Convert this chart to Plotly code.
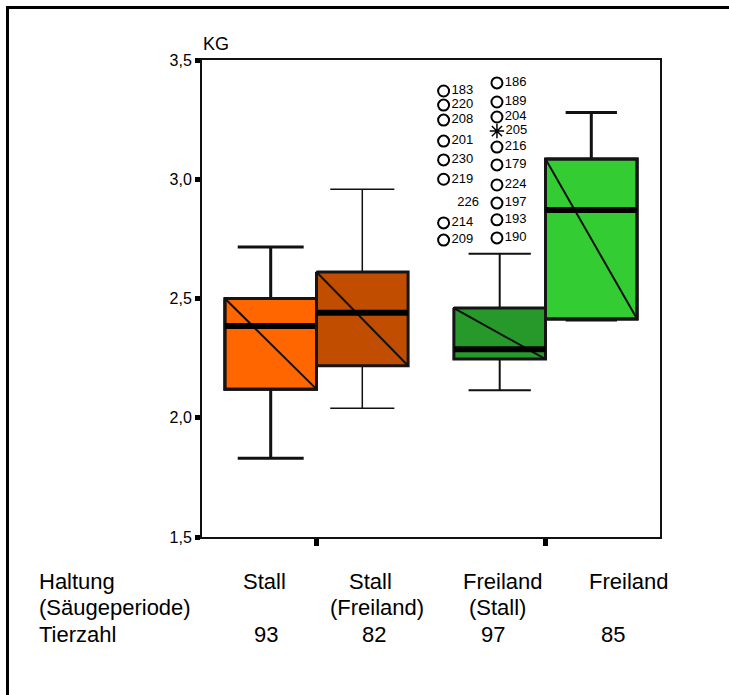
import plotly.graph_objects as go

# ---------------- data ----------------
haltung = ["Stall", "Stall", "Freiland", "Freiland"]
saeugeperiode = ["", "(Freiland)", "(Stall)", ""]
tierzahl = [93, 82, 97, 85]

lower_fence = [1.83, 2.04, 2.115, 2.41]
q1 = [2.12, 2.218, 2.246, 2.414]
median = [2.385, 2.44, 2.287, 2.871]
q3 = [2.50, 2.611, 2.46, 3.085]
upper_fence = [2.716, 2.958, 2.688, 3.28]

# outliers of box 3 (Freiland, Säugeperiode Stall), two label columns
out_left_vals = [3.37, 3.311, 3.248, 3.16, 3.081, 3.0, 2.817, 2.745]
out_left_labels = ["183", "220", "208", "201", "230", "219", "214", "209"]
out_right_vals = [3.404, 3.324, 3.261, 3.135, 3.06, 2.976, 2.90, 2.83, 2.754]
out_right_labels = ["186", "189", "204", "216", "179", "224", "197", "193", "190"]
extreme_vals = [3.202]
extreme_labels = ["205"]
unmarked_vals = [2.90]
unmarked_labels = ["226"]

y_ticks = [1.5, 2.0, 2.5, 3.0, 3.5]

# ---------------- styles ----------------
colors = ["#FF6600", "#C04D00", "#27982A", "#33CC33"]
whisker_lw = [3, 1.5, 2, 3]
whisker_w = [0.72, 0.7, 0.68, 0.56]
BOX_W = 0.4
FONT = "Liberation Sans, Arial, sans-serif"

# layout geometry (pixels)
W, H = 729, 695
L, R, T, B = 202, 660, 60, 537


def px_x(px):
    return (px - L) / (R - L)


def px_y(py):
    return (B - py) / (B - T)


fig = go.Figure()

centers = []
for i in range(4):
    g = i // 2
    side = i % 2
    c = g + (side - 0.5) * BOX_W
    centers.append(c)

for i in range(4):
    c = centers[i]
    fig.add_trace(go.Box(
        x=[c], q1=[q1[i]], median=[median[i]], q3=[q3[i]],
        lowerfence=[lower_fence[i]], upperfence=[upper_fence[i]],
        width=BOX_W, whiskerwidth=whisker_w[i],
        fillcolor=colors[i], line=dict(color="#111111", width=whisker_lw[i]),
        boxpoints=False, hoverinfo="skip", showlegend=False,
    ))
    xl, xr = c - BOX_W / 2, c + BOX_W / 2
    # box border
    fig.add_trace(go.Scatter(
        x=[xl, xr, xr, xl, xl], y=[q3[i], q3[i], q1[i], q1[i], q3[i]],
        mode="lines", line=dict(color="#151515", width=3),
        hoverinfo="skip", showlegend=False))
    # diagonal
    fig.add_trace(go.Scatter(
        x=[xl, xr], y=[q3[i], q1[i]], mode="lines",
        line=dict(color="#111111", width=2), hoverinfo="skip", showlegend=False))
    # thick median
    fig.add_trace(go.Scatter(
        x=[xl, xr], y=[median[i], median[i]], mode="lines",
        line=dict(color="#000000", width=6), hoverinfo="skip", showlegend=False))

# outliers
c3 = centers[2]
LEFT_OFF, RIGHT_OFF = -0.245, -0.012
lbl_font = dict(family=FONT, size=13, color="#000000")
circ = dict(symbol="circle-open", size=11, color="#000", line=dict(color="#000", width=2))
fig.add_trace(go.Scatter(
    x=[c3 + LEFT_OFF] * len(out_left_vals), y=out_left_vals,
    mode="markers+text", text=out_left_labels, textposition="middle right",
    textfont=lbl_font, marker=circ, hoverinfo="skip", showlegend=False))
fig.add_trace(go.Scatter(
    x=[c3 + RIGHT_OFF] * len(out_right_vals), y=out_right_vals,
    mode="markers+text", text=out_right_labels, textposition="middle right",
    textfont=lbl_font, marker=circ, hoverinfo="skip", showlegend=False))
fig.add_trace(go.Scatter(
    x=[c3 + RIGHT_OFF] * len(extreme_vals), y=extreme_vals,
    mode="markers+text", text=extreme_labels, textposition="middle right",
    textfont=lbl_font,
    marker=dict(symbol="asterisk-open", size=12, color="#000",
                line=dict(color="#000", width=1.5)),
    hoverinfo="skip", showlegend=False))
fig.add_trace(go.Scatter(
    x=[c3 + LEFT_OFF + 0.06] * len(unmarked_vals), y=unmarked_vals,
    mode="text", text=unmarked_labels, textposition="middle right",
    textfont=lbl_font, hoverinfo="skip", showlegend=False))

annotations = []
# KG
annotations.append(dict(x=px_x(201), y=px_y(44), xref="paper", yref="paper",
                        text="KG", showarrow=False, xanchor="left", yanchor="middle",
                        font=dict(family=FONT, size=18, color="#000")))

tbl_font = dict(family=FONT, size=22, color="#000")
row_y = [581, 607.5, 634]
row_titles = ["Haltung", "(Säugeperiode)", "Tierzahl"]
for t, yy in zip(row_titles, row_y):
    annotations.append(dict(x=px_x(37), y=px_y(yy), xref="paper", yref="paper",
                            text=t, showarrow=False, xanchor="left", yanchor="middle",
                            font=tbl_font))

col_x_row1 = [264, 370, 502, 628]
col_x_row2 = [264, 377, 497, 628]
col_x_row3 = [266, 374, 493, 613]
for i in range(4):
    annotations.append(dict(x=px_x(col_x_row1[i]), y=px_y(row_y[0]), xref="paper", yref="paper",
                            text=haltung[i], showarrow=False, xanchor="center",
                            yanchor="middle", font=tbl_font))
    if saeugeperiode[i]:
        annotations.append(dict(x=px_x(col_x_row2[i]), y=px_y(row_y[1]), xref="paper",
                                yref="paper", text=saeugeperiode[i], showarrow=False,
                                xanchor="center", yanchor="middle", font=tbl_font))
    annotations.append(dict(x=px_x(col_x_row3[i]), y=px_y(row_y[2]), xref="paper", yref="paper",
                            text=str(tierzahl[i]), showarrow=False, xanchor="center",
                            yanchor="middle", font=tbl_font))

shapes = [
    dict(type="line", xref="paper", yref="paper", x0=px_x(6), y0=px_y(7.5),
         x1=px_x(740), y1=px_y(7.5), line=dict(color="#000", width=3)),
    dict(type="line", xref="paper", yref="paper", x0=px_x(7.5), y0=px_y(6),
         x1=px_x(7.5), y1=px_y(705), line=dict(color="#000", width=3)),
]

fig.update_layout(
    width=W, height=H,
    margin=dict(l=L, r=W - R, t=T, b=H - B, pad=0),
    paper_bgcolor="white", plot_bgcolor="white",
    separators=",.",
    boxmode="overlay",
    showlegend=False,
    annotations=annotations,
    shapes=shapes,
    xaxis=dict(range=[-0.5, 1.5], tickvals=[0, 1], ticktext=["", ""],
               ticks="outside", ticklen=7, tickwidth=5, tickcolor="#000",
               showgrid=False, zeroline=False, showline=True, linewidth=2,
               linecolor="#111", mirror=True),
    yaxis=dict(range=[1.5, 3.5], tickvals=y_ticks, tickformat=".1f",
               ticks="outside", ticklen=5, tickwidth=5, tickcolor="#000",
               tickfont=dict(family=FONT, size=16, color="#000"),
               showgrid=False, zeroline=False, showline=True, linewidth=2,
               linecolor="#111", mirror=True),
)

fig.write_html(
    "out.html",
    config={"displayModeBar": False},
    post_script="document.body.style.margin='0';document.body.style.overflow='hidden';",
)
